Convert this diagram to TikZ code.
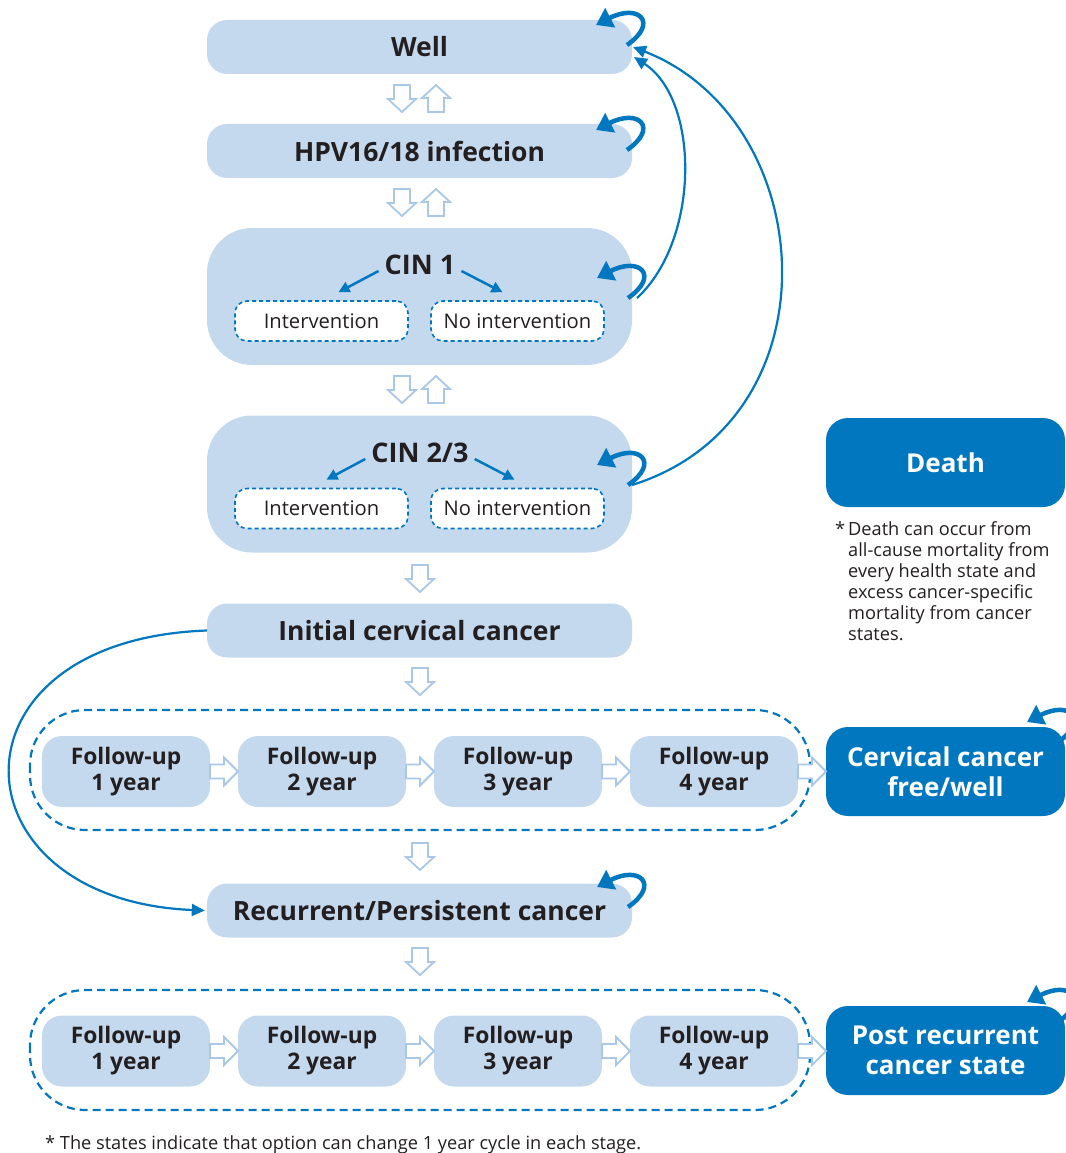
\documentclass[tikz,border=0pt]{standalone}
\usepackage{fontspec}
\setmainfont{Open Sans}
\usetikzlibrary{arrows.meta,calc}
\definecolor{lb}{HTML}{C5D9EE}
\definecolor{db}{HTML}{0077BF}
\definecolor{ha}{HTML}{A9C7E7}
\definecolor{tx}{HTML}{231F20}
\tikzset{
 state/.style={fill=lb, rounded corners=20pt, minimum width=425pt, minimum height=54pt, inner sep=0pt, text=tx, font=\bfseries\fontsize{26.5}{30}\selectfont},
 bigstate/.style={fill=lb, rounded corners=45pt, minimum width=425pt, minimum height=137pt, inner sep=0pt},
 cintext/.style={text=tx, inner sep=1pt, font=\bfseries\fontsize{27}{31}\selectfont},
 subbox/.style={draw=db, dashed, dash pattern=on 4pt off 3pt, line width=1.6pt, fill=white, rounded corners=12pt, minimum width=173pt, minimum height=40pt, inner sep=0pt, text=tx, font=\fontsize{20.2}{24}\selectfont},
 fubox/.style={fill=lb, rounded corners=20pt, minimum width=168pt, minimum height=71pt, inner sep=0pt, text=tx, align=center, font=\bfseries\fontsize{22.8}{26}\selectfont},
 darkbox/.style={fill=db, rounded corners=22pt, minimum width=239pt, minimum height=89pt, inner sep=0pt, text=white, align=center, font=\bfseries\fontsize{26}{30}\selectfont},
 groupbox/.style={draw=db, line width=2.2pt, dash pattern=on 8pt off 5pt, rounded corners=55pt},
 note/.style={text=tx, inner sep=0pt, font=\fontsize{18.2}{21}\selectfont},
 cinarrow/.style={db, line width=2.5pt, -{Triangle[length=11pt,width=11pt]}},
 longarc/.style={db, line width=2.2pt, -{Triangle[length=13pt,width=12pt]}},
 downarrow/.pic={\draw[ha, line width=1.8pt, fill=white, line join=miter] (-8,0) -- (8,0) -- (8,14) -- (14,14) -- (0,27) -- (-14,14) -- (-8,14) -- cycle;},
 uparrow/.pic={\draw[ha, line width=1.8pt, fill=white, line join=miter] (-8,27) -- (8,27) -- (8,13) -- (14,13) -- (0,0) -- (-14,13) -- (-8,13) -- cycle;},
 rightarrow/.pic={\draw[ha, line width=1.8pt, fill=white, line join=miter] (0,-7) -- (14,-7) -- (14,-14) -- (28,0) -- (14,14) -- (14,7) -- (0,7) -- cycle;},
 selfloop/.pic={\draw[db, line width=4.5pt, -{Triangle[length=16pt,width=21pt]}] (0,0) .. controls (32,-22) and (12,-42) .. (-31,-20);}
}
\begin{document}
\begin{tikzpicture}[x=1pt,y=-1pt]
\useasboundingbox (0,0) rectangle (1065,1153);

% main states
\node[state] (well) at (419.5,47) {Well};
\node[state] (hpv) at (419.5,151) {HPV16/18 infection};
\node[bigstate] (cin1) at (419.5,296.5) {};
\node[cintext] (cin1t) at (420,265) {CIN 1};
\node[subbox] (int1) at (321.5,321) {Intervention};
\node[subbox] (noint1) at (517.5,321) {No intervention};
\node[bigstate] (cin2) at (419.5,484) {};
\node[cintext] (cin2t) at (420,453) {CIN 2/3};
\node[subbox] (int2) at (321.5,508.5) {Intervention};
\node[subbox] (noint2) at (517.5,508.5) {No intervention};
\node[state] (init) at (419.5,630.5) {Initial cervical cancer};
\node[state] (recur) at (419.5,910.5) {Recurrent/Persistent cancer};

% CIN arrows
\draw[cinarrow] ($(cin1t.west)+(-5,6)$) -- ($(int1.north)+(17,-8)$);
\draw[cinarrow] ($(cin1t.east)+(5,6)$) -- ($(noint1.north)+(-15,-8)$);
\draw[cinarrow] ($(cin2t.west)+(-5,6)$) -- ($(int2.north)+(5,-8)$);
\draw[cinarrow] ($(cin2t.east)+(5,6)$) -- ($(noint2.north)+(-3,-8)$);

% follow-up groups
\draw[groupbox] (30,710) rectangle (810,830);
\draw[groupbox] (30,990) rectangle (810,1110);
\foreach \i/\x in {1/126,2/322,3/518,4/714}{
  \node[fubox] (fa\i) at (\x,771.5) {Follow-up\\\i\ year};
  \node[fubox] (fb\i) at (\x,1051) {Follow-up\\\i\ year};
}

% dark states
\node[darkbox] (death) at (945.5,462.5) {Death};
\node[darkbox] (cfree) at (945.5,771.5) {Cervical cancer\\free/well};
\node[darkbox] (post) at (945.5,1050.5) {Post recurrent\\cancer state};

% notes
\node[note, anchor=north west] (star1) at (835,521) {*};
\node[note, anchor=north west, align=left] (deathnote) at (848,521) {Death can occur from\\all-cause mortality from\\every health state and\\excess cancer-specific\\mortality from cancer\\states.};
\node[note, anchor=base west] (foot) at (45,1149) {* The states indicate that option can change 1 year cycle in each stage.};

% hollow arrows between states
\pic at (402,85) {downarrow};  \pic at (436,85) {uparrow};
\pic at (402,189) {downarrow}; \pic at (436,189) {uparrow};
\pic at (402,376) {downarrow}; \pic at (436,376) {uparrow};
\pic at (420,565) {downarrow};
\pic at (420,668) {downarrow};
\pic at (420,843) {downarrow};
\pic at (420,948) {downarrow};
\foreach \y in {771.5,1051}{
  \pic at (210,\y) {rightarrow};
  \pic at (406,\y) {rightarrow};
  \pic at (602,\y) {rightarrow};
  \pic at (798,\y) {rightarrow};
}

% self loops
\pic at (627,45) {selfloop};
\pic at (627,150) {selfloop};
\pic at (628,298) {selfloop};
\pic at (628,485) {selfloop};
\pic at (628,907) {selfloop};
\pic at (1058,742) {selfloop};
\pic at (1058,1022) {selfloop};

% long arcs
\coordinate (c1s) at (637,298);
\coordinate (c2s) at (632,485);
\coordinate (w1) at (634,57);
\coordinate (w2) at (633,47);
\draw[longarc] (c1s) .. controls (700,240) and (700,100) .. (w1);
\draw[longarc] (c2s) .. controls (840,420) and (820,120) .. (w2);
\draw[longarc] (init.west) .. controls (-60,640) and (-50,900) .. ($(recur.west)+(-2,0)$);
\end{tikzpicture}
\end{document}
